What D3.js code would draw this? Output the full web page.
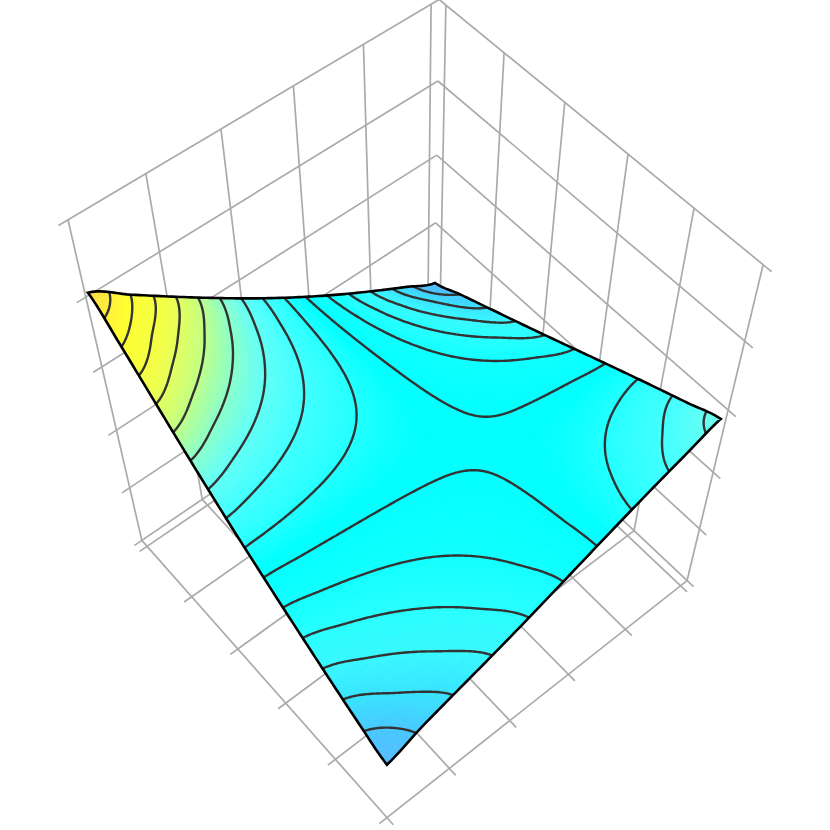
<!DOCTYPE html>
<html>
<head>
<meta charset="utf-8">
<script src="https://cdn.jsdelivr.net/npm/d3@7"></script>
<style>
  html, body { margin: 0; background: #fff; }
  svg { display: block; }
</style>
</head>
<body>
<svg id="chart" width="830" height="830"></svg>
<script>
// box ticks
var aTicks = [0, 1, 2, 3, 4, 5];
var bTicks = [0, 1, 2, 3, 4, 5];
var zTicks = [0, 1, 2, 3, 4, 5];

// where the four surface corners sit over the floor, in a,b
var cornerLL = [-0.016, -0.006];
var cornerHL = [5.144, -0.143];
var cornerHH = [5.072, 4.963];
var cornerLH = [0.077, 4.930];

// surface height, 11 x 11 samples across the surface
var surfaceZ = [
  [4.154, 3.818, 3.452, 3.088, 2.740, 2.414, 2.106, 1.810, 1.523, 1.249, 1.006],
  [3.795, 3.523, 3.230, 2.941, 2.666, 2.405, 2.150, 1.899, 1.651, 1.417, 1.225],
  [3.435, 3.233, 3.015, 2.797, 2.587, 2.383, 2.182, 1.979, 1.774, 1.575, 1.401],
  [3.083, 2.950, 2.802, 2.652, 2.502, 2.353, 2.203, 2.049, 1.890, 1.728, 1.570],
  [2.742, 2.671, 2.590, 2.502, 2.410, 2.314, 2.215, 2.110, 1.999, 1.879, 1.748],
  [2.417, 2.398, 2.376, 2.348, 2.312, 2.269, 2.219, 2.163, 2.100, 2.028, 1.940],
  [2.108, 2.133, 2.164, 2.191, 2.209, 2.218, 2.217, 2.209, 2.195, 2.173, 2.139],
  [1.814, 1.877, 1.955, 2.033, 2.102, 2.160, 2.207, 2.248, 2.283, 2.314, 2.335],
  [1.535, 1.633, 1.752, 1.874, 1.990, 2.095, 2.191, 2.280, 2.365, 2.447, 2.520],
  [1.265, 1.405, 1.560, 1.718, 1.873, 2.022, 2.165, 2.304, 2.439, 2.570, 2.693],
  [1.002, 1.196, 1.380, 1.564, 1.749, 1.938, 2.128, 2.316, 2.501, 2.682, 2.865]
];

var contourLevels = [4.0, 3.8, 3.6, 3.4, 3.2, 3.0, 2.8, 2.6, 2.4, 2.2, 2.0, 1.8, 1.6, 1.4, 1.2];

var colorLevels = [1.0, 1.2, 1.4, 1.6, 1.8, 2.05, 2.25, 2.45, 2.65, 2.85, 3.05, 3.25, 3.5, 3.85, 4.2];
var colorValues = ["#55bbff", "#48c8ff", "#38e4ff", "#38f8ff", "#28ffff", "#0cffff", "#00ffff", "#2cffff",
  "#48ffff", "#6bfff0", "#98ffb8", "#ccff78", "#f2ff48", "#ffff30", "#ffd848"];

// camera fitted to the box corners
var camera = [63.4262, 41.2300, -17.7183, 147.087, -33.8844, 40.0101, -73.6928, 546.335, 0.0144443, -0.0174339, -0.0428937];
var pad = 0.12;

function project(a, b, z) {
  var w = camera[8] * a + camera[9] * b + camera[10] * z + 1;
  return [
    (camera[0] * a + camera[1] * b + camera[2] * z + camera[3]) / w,
    (camera[4] * a + camera[5] * b + camera[6] * z + camera[7]) / w
  ];
}

var color = d3.scaleLinear().domain(colorLevels).range(colorValues).clamp(true);
var line = d3.line();
var svg = d3.select("#chart");

// s,t run 0..1 over the surface
function surfacePoint(s, t, z) {
  var q = [0, 1].map(function(k) {
    return (1 - s) * (1 - t) * cornerLL[k] + s * (1 - t) * cornerHL[k] + s * t * cornerHH[k] + (1 - s) * t * cornerLH[k];
  });
  return project(q[0], q[1], z);
}

// catmull-rom between the surfaceZ samples, only used for drawing
function cubic(p0, p1, p2, p3, t) {
  return p1 + 0.5 * t * (p2 - p0 + t * (2 * p0 - 5 * p1 + 4 * p2 - p3 + t * (3 * (p1 - p2) + p3 - p0)));
}
var last = surfaceZ.length - 1;
function clampIndex(i) {
  return Math.max(0, Math.min(last, i));
}
function height(s, t) {
  var u = s * last, v = t * last,
    i = Math.min(Math.floor(u), last - 1),
    j = Math.min(Math.floor(v), last - 1),
    rows = [-1, 0, 1, 2].map(function(di) {
      var r = surfaceZ[clampIndex(i + di)];
      return cubic(r[clampIndex(j - 1)], r[clampIndex(j)], r[clampIndex(j + 1)], r[clampIndex(j + 2)], v - j);
    });
  return cubic(rows[0], rows[1], rows[2], rows[3], u - i);
}

// back walls and floor
var grid = svg.append("g")
  .attr("fill", "none")
  .attr("stroke", "#aaaaaa")
  .attr("stroke-width", 1.7);

function gridLine(p, q) {
  grid.append("path").attr("d", line([project(p[0], p[1], p[2]), project(q[0], q[1], q[2])]));
}

var aMin = d3.min(aTicks) - pad, aMax = d3.max(aTicks) + pad,
  bMin = d3.min(bTicks) - pad, bMax = d3.max(bTicks) + pad,
  zMin = d3.min(zTicks), zMax = d3.max(zTicks);

aTicks.forEach(function(a) {
  gridLine([a, bMin, zMin], [a, bMin, zMax]);
  gridLine([a, bMin, zMin], [a, bMax, zMin]);
});
bTicks.forEach(function(b) {
  gridLine([aMax, b, zMin], [aMax, b, zMax]);
  gridLine([aMin, b, zMin], [aMax, b, zMin]);
});
zTicks.forEach(function(z) {
  gridLine([aMin, bMin, z], [aMax, bMin, z]);
  gridLine([aMax, bMin, z], [aMax, bMax, z]);
});

// surface cells, coloured by height
var cells = 80;
var cellScale = d3.scaleLinear().domain([0, cells]).range([0, 1]);
var surface = svg.append("g").attr("stroke-width", 0.8);
d3.range(cells).forEach(function(i) {
  d3.range(cells).forEach(function(j) {
    var s0 = cellScale(i), s1 = cellScale(i + 1), t0 = cellScale(j), t1 = cellScale(j + 1);
    var c = color(height((s0 + s1) / 2, (t0 + t1) / 2));
    surface.append("path")
      .attr("d", line([
        surfacePoint(s0, t0, height(s0, t0)),
        surfacePoint(s1, t0, height(s1, t0)),
        surfacePoint(s1, t1, height(s1, t1)),
        surfacePoint(s0, t1, height(s0, t1))
      ]) + "Z")
      .attr("fill", c)
      .attr("stroke", c);
  });
});

// contour lines, with the run along the surface edge cut away
var n = 201;
var gridScale = d3.scaleLinear().domain([0.5, n - 0.5]).range([0, 1]);
var values = [];
d3.range(n).forEach(function(y) {
  d3.range(n).forEach(function(x) {
    values.push(height(gridScale(x + 0.5), gridScale(y + 0.5)));
  });
});
function outside(q) {
  return q[0] < 0.25 || q[0] > n - 0.25 || q[1] < 0.25 || q[1] > n - 0.25;
}
var contourGroup = svg.append("g")
  .attr("fill", "none")
  .attr("stroke", "#333")
  .attr("stroke-width", 2.4)
  .attr("stroke-linejoin", "round");
d3.contours().size([n, n]).thresholds(contourLevels)(values).forEach(function(shape) {
  var d = "";
  shape.coordinates.forEach(function(polygon) {
    polygon.forEach(function(ring) {
      var drawing = false;
      ring.forEach(function(q) {
        if (outside(q)) { drawing = false; return; }
        var e = surfacePoint(gridScale(q[0]), gridScale(q[1]), shape.value);
        d += (drawing ? "L" : "M") + e[0].toFixed(2) + "," + e[1].toFixed(2);
        drawing = true;
      });
    });
  });
  contourGroup.append("path").attr("d", d);
});

// surface outline
var edgeStops = d3.range(0, 1.0001, 0.01);
var outline = []
  .concat(edgeStops.map(function(t) { return [t, 0]; }))
  .concat(edgeStops.map(function(t) { return [1, t]; }))
  .concat(edgeStops.map(function(t) { return [1 - t, 1]; }))
  .concat(edgeStops.map(function(t) { return [0, 1 - t]; }))
  .map(function(q) { return surfacePoint(q[0], q[1], height(q[0], q[1])); });
svg.append("path")
  .attr("d", line(outline) + "Z")
  .attr("fill", "none")
  .attr("stroke", "#000")
  .attr("stroke-width", 2.6)
  .attr("stroke-linejoin", "miter");
</script>
</body>
</html>
